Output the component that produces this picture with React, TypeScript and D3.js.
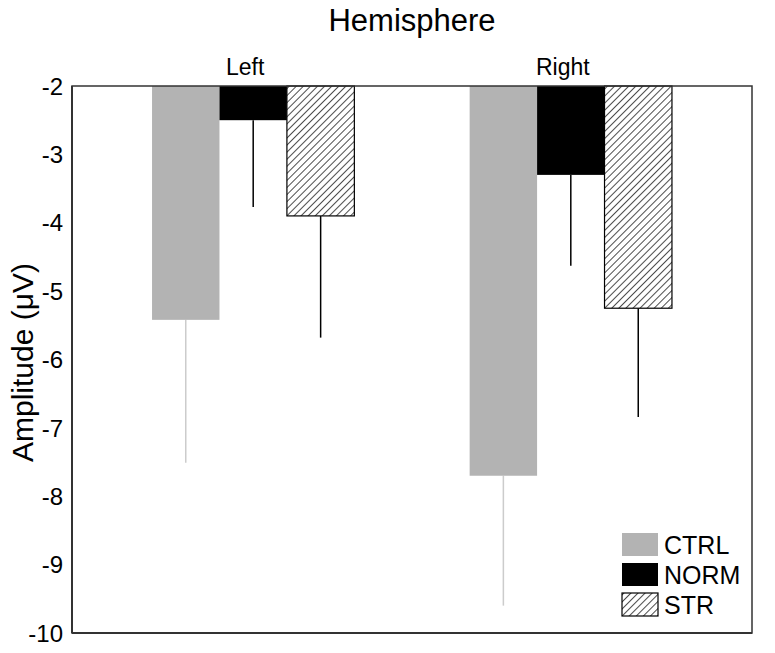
import React from "react";
import * as d3 from "d3";

const hemispheres = ["Left", "Right"];
const groups = ["CTRL", "NORM", "STR"];
const meanLeft = [-5.42, -2.5, -3.9];
const meanRight = [-7.7, -3.3, -5.25];
const errLeft = [-7.51, -3.77, -5.68];
const errRight = [-9.6, -4.63, -6.84];
const yTicks = [-2, -3, -4, -5, -6, -7, -8, -9, -10];

const W = 775;
const H = 653;
const frame = { left: 72, right: 752, top: 86, bottom: 633 };
const FONT = "'Liberation Sans', Arial, Helvetica, sans-serif";

export default function App() {
  const y = d3.scaleLinear().domain([-2, -10]).range([frame.top, frame.bottom]);
  const x0 = d3
    .scaleBand<string>()
    .domain(hemispheres)
    .range([frame.left, frame.right])
    .paddingInner(0.363)
    .paddingOuter(0.252);
  const x1 = d3.scaleBand<string>().domain(groups).range([0, x0.bandwidth()]).padding(0);

  const fills: Record<string, string> = { CTRL: "#b3b3b3", NORM: "#000000", STR: "url(#hatch)" };
  const errColor: Record<string, string> = { CTRL: "#cccccc", NORM: "#000000", STR: "#000000" };

  const data = hemispheres.map((h, i) => ({
    h,
    means: i === 0 ? meanLeft : meanRight,
    errs: i === 0 ? errLeft : errRight,
  }));

  const legendX = 622;
  const legendY = [533, 563, 593];

  return (
    <svg
      width={W}
      height={H}
      style={{ position: "absolute", left: 0, top: 0, background: "#fff" }}
      fontFamily={FONT}
    >
      <defs>
        <pattern id="hatch" patternUnits="userSpaceOnUse" width="5" height="5" patternTransform="rotate(45)">
          <rect width="5" height="5" fill="#fff" />
          <line x1="0" y1="0" x2="0" y2="5" stroke="#000" strokeWidth="1.4" />
        </pattern>
      </defs>
      <rect x={0} y={0} width={W} height={H} fill="#fff" />
      <text x={(frame.left + frame.right) / 2} y={31} textAnchor="middle" fontSize={31} fill="#000">
        Hemisphere
      </text>
      {hemispheres.map((h) => (
        <text
          key={h}
          x={(x0(h) as number) + x0.bandwidth() / 2 - 8}
          y={75}
          textAnchor="middle"
          fontSize={23}
          fill="#000"
        >
          {h}
        </text>
      ))}
      {data.map((d) =>
        groups.map((g, j) => {
          const bx = (x0(d.h) as number) + (x1(g) as number);
          const bw = x1.bandwidth();
          const cx = bx + bw / 2;
          return (
            <g key={d.h + g}>
              <line
                x1={cx}
                x2={cx}
                y1={y(d.means[j])}
                y2={y(d.errs[j])}
                stroke={errColor[g]}
                strokeWidth={1.5}
              />
              <rect
                x={bx}
                y={y(-2)}
                width={bw}
                height={y(d.means[j]) - y(-2)}
                fill={fills[g]}
                stroke={g === "STR" ? "#000" : "none"}
                strokeWidth={1.2}
              />
            </g>
          );
        })
      )}
      <rect
        x={frame.left}
        y={frame.top}
        width={frame.right - frame.left}
        height={frame.bottom - frame.top}
        fill="none"
        stroke="#333"
        strokeWidth={1.5}
      />
      <line x1={frame.left} x2={frame.left} y1={frame.top} y2={frame.bottom} stroke="#333" strokeWidth={2} />
      <line x1={frame.left} x2={frame.right} y1={frame.bottom} y2={frame.bottom} stroke="#333" strokeWidth={2} />
      {yTicks.map((t) => (
        <text key={t} x={63} y={y(t)} dy="0.36em" textAnchor="end" fontSize={24} fill="#000">
          {t}
        </text>
      ))}
      <text
        transform={`translate(33, ${(frame.top + frame.bottom) / 2 + 3}) rotate(-90)`}
        textAnchor="middle"
        fontSize={30}
        fill="#000"
      >
        Amplitude (μV)
      </text>
      {groups.map((g, i) => (
        <g key={g}>
          <rect
            x={legendX}
            y={legendY[i]}
            width={36}
            height={23}
            fill={fills[g]}
            stroke={g === "STR" ? "#000" : "none"}
            strokeWidth={1.2}
          />
          <text x={664} y={legendY[i] + 11.5} dy="0.36em" fontSize={25} fill="#000">
            {g}
          </text>
        </g>
      ))}
    </svg>
  );
}
